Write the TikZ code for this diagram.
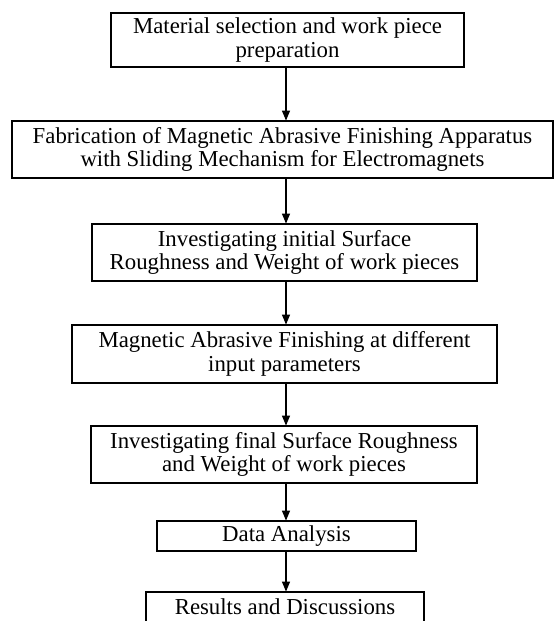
\documentclass[tikz,border=0pt]{standalone}
\usepackage{fontspec}
\setmainfont{Liberation Serif}
\usetikzlibrary{arrows}

\begin{document}
\begin{tikzpicture}[line cap=round,line join=round,>=triangle 45,x=1pt,y=1pt,
		stage/.style={draw,line width=1.1pt,line join=miter,align=center,inner sep=0pt,
			font=\fontsize{22.8}{23.5}\selectfont},
		flow/.style={->,line width=1.3pt}]
				\useasboundingbox (0,0) rectangle (555,-621);
				\clip (0,0) rectangle (555,-621);
				\coordinate (axis) at (286,0);
				\node[stage,minimum width=353,minimum height=54] (b1) at (287.5,-40) {Material selection and work piece\\preparation};
				\node[stage,minimum width=541,minimum height=57] (b2) at (282.5,-149.5) {Fabrication of Magnetic Abrasive Finishing Apparatus\\with Sliding Mechanism for Electromagnets};
				\node[stage,minimum width=385,minimum height=57] (b3) at (284.5,-252.5) {Investigating initial Surface\\Roughness and Weight of work pieces};
				\node[stage,minimum width=425,minimum height=58] (b4) at (284.5,-354) {Magnetic Abrasive Finishing at different\\input parameters};
				\node[stage,minimum width=386,minimum height=57] (b5) at (284,-454.5) {Investigating final Surface Roughness\\and Weight of work pieces};
				\node[stage,minimum width=259,minimum height=30] (b6) at (286.5,-536) {Data Analysis};
				\node[stage,minimum width=278,minimum height=30] (b7) at (285,-607) {Results and Discussions};
				\foreach \i/\j in {b1/b2,b2/b3,b3/b4,b4/b5,b5/b6,b6/b7}
					\draw[flow] (\i.south -| axis) -- (\j.north -| axis);
			\end{tikzpicture}
\end{document}
